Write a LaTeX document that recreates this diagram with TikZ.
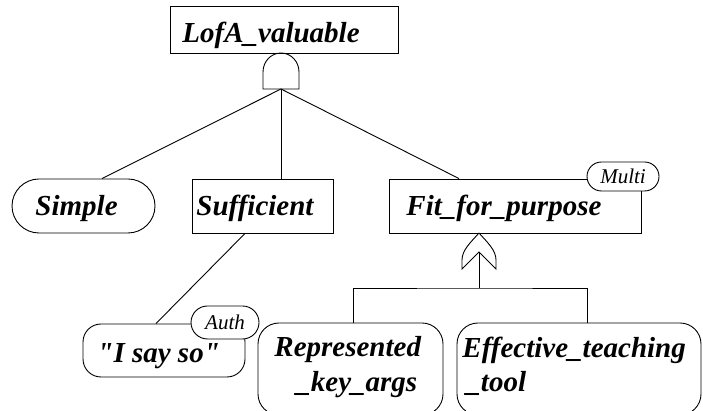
\documentclass[tikz,border=0pt]{standalone}
\usepackage{fontspec}
\setmainfont{Liberation Serif}[Ligatures=TeXOff]
\begin{document}
\begin{tikzpicture}[x=1pt,y=1pt,line width=0.9pt,
  lbl/.style={font=\fontsize{29}{35}\selectfont\bfseries\itshape, inner sep=0pt},
  tagbox/.style={draw, fill=white, inner sep=0pt, font=\fontsize{21}{25}\selectfont\itshape},
  goalbox/.style={draw, inner sep=0pt, minimum height=54pt},
]
\useasboundingbox (0,0) rectangle (703,411);
\clip (0,0) rectangle (703,411);

% root goal
\node[goalbox, minimum width=228pt, minimum height=47pt] (top) at (284,381.5) {};
\node[lbl, anchor=base west] (toptext) at (182,368) {LofA\_valuable};

% AND gate below the root
\draw (263,322) -- (263,339) arc[start angle=180, end angle=0, x radius=18pt, y radius=19pt] -- (299,322) -- cycle;
\coordinate (andout) at (281,322);

% second row
\node[goalbox, rounded corners=27pt, minimum width=143pt] (simple) at (83.5,205) {};
\node[lbl, anchor=base west] (simpletext) at (35,195) {Simple};
\node[goalbox, minimum width=141pt] (suff) at (262.5,205) {};
\node[lbl, anchor=base west] (sufftext) at (196,195) {Sufficient};
\node[goalbox, minimum width=252pt] (fit) at (515,205) {};
\node[lbl, anchor=base west] (fittext) at (406,195) {Fit\_for\_purpose};
\node[tagbox, rounded corners=14.5pt, minimum width=72pt, minimum height=29pt] (multi) at (623,234.5) {Multi};

\draw (andout) -- ([xshift=18.5pt]simple.north);
\draw (andout) -- (andout |- suff.north);
\draw (andout) -- ([xshift=-56pt]fit.north);

% evidence under Sufficient
\node[goalbox, rounded corners=18pt, minimum width=162pt, minimum height=53pt] (isay) at (164,60.5) {};
\node[lbl, anchor=base west] (isaytext) at (97,48) {"I say so"};
\node[tagbox, rounded corners=16.5pt, minimum width=68pt, minimum height=33pt] (auth) at (225,88.5) {Auth};
\draw ([xshift=-17.5pt]suff.south) -- ([xshift=-8pt]isay.north);

% OR gate under Fit_for_purpose
\coordinate (ortip) at (479,178);
\coordinate (orin) at (479,159);
\coordinate (bus) at (479,123);
\draw (ortip) .. controls (471,169) and (462,161) .. (462,151) -- (462,142) -- (orin)
      -- (496,142) -- (496,151) .. controls (496,161) and (487,169) .. (ortip);
\draw (bus) -- (orin);

% third row
\node[goalbox, rounded corners=21pt, minimum width=185pt, minimum height=92pt] (rep) at (350.5,42) {};
\node[lbl, anchor=base west] (rep1) at (274,54) {Represented};
\node[lbl, anchor=base west] (rep2) at (296,19) {\_key\_args};
\node[goalbox, rounded corners=21pt, minimum width=244pt, minimum height=92pt] (eff) at (579,42) {};
\node[lbl, anchor=base west] (eff1) at (462,53) {Effective\_teaching};
\node[lbl, anchor=base west] (eff2) at (466,19) {\_tool};

\draw ([xshift=2.5pt]rep.north) |- (bus) -| ([xshift=8pt]eff.north);
\end{tikzpicture}
\end{document}
